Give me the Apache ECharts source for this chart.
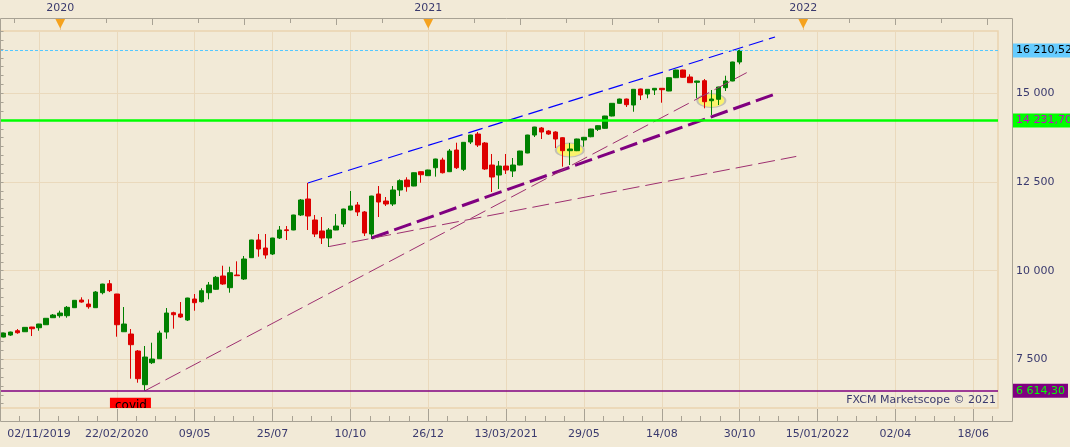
<!DOCTYPE html>
<html>
<head>
<meta charset="utf-8">
<title>NAS100 weekly</title>
<script src="https://cdn.jsdelivr.net/npm/echarts@6.0.0/dist/echarts.min.js"></script>
<style>
html, body { margin: 0; padding: 0; background: #f2ead7; }
#chart { width: 1070px; height: 447px; }
</style>
</head>
<body>
<div id="chart"></div>
<script>
// weekly candles, week 0 = first bar on the left
var opens  = [8128, 8184, 8306, 8277, 8410, 8390, 8475, 8673, 8729, 8729,
              8955, 9171, 9058, 8955, 9378, 9631, 9341, 8277, 8213, 7734,
              6784, 7404, 7517, 8269, 8814, 8777, 8608, 9200, 9124, 9378,
              9474, 9849, 9519, 9877, 9764, 10365, 10864, 10638, 10469, 10920,
              11150, 11146, 11569, 12020, 11428, 11118, 10920, 11146, 11315, 11710,
              11851, 11654, 11033, 12161, 11963, 11879, 12274, 12556, 12386, 12790,
              12677, 12902, 13119, 12790, 13401, 12857, 13627, 13852, 13599, 12978,
              12696, 12950, 12809, 12978, 13317, 13824, 14022, 13937, 13909, 13748,
              13382, 13382, 13683, 13776, 13985, 14013, 14360, 14718, 14839, 14670,
              15121, 14980, 15093, 15141, 15065, 15440, 15657, 15460, 15310, 15355,
              14791, 14831, 15158, 15347, 15883];
var closes = [8240, 8269, 8249, 8401, 8362, 8495, 8656, 8748, 8805, 8966,
              9163, 9115, 8982, 9397, 9622, 9434, 8475, 8495, 7912, 6953,
              7564, 7508, 8240, 8805, 8757, 8692, 9228, 9096, 9434, 9595,
              9812, 9623, 9942, 9857, 10328, 10864, 10610, 10441, 10920, 11146,
              11130, 11569, 11992, 11540, 11033, 10920, 11146, 11258, 11738, 11823,
              11654, 11061, 12104, 11935, 11879, 12274, 12536, 12367, 12761, 12705,
              12837, 13148, 12761, 13373, 12902, 13618, 13824, 13542, 12866, 12640,
              12950, 12837, 12978, 13373, 13824, 14050, 13909, 13852, 13711, 13382,
              13430, 13712, 13759, 13994, 14087, 14360, 14718, 14839, 14679, 15113,
              14952, 15113, 15141, 15102, 15440, 15657, 15451, 15299, 15347, 14763,
              14839, 15178, 15347, 15883, 16210.52];
var lows   = [8120, 8160, 8221, 8270, 8156, 8306, 8470, 8665, 8673, 8673,
              8950, 9096, 8926, 8950, 9332, 9397, 8137, 8270, 6953, 6840,
              6614.3, 7367, 7510, 8080, 8363, 8664, 8580, 8870, 9100, 9192,
              9460, 9600, 9378, 9850, 9736, 10360, 10393, 10337, 10441, 10892,
              10864, 11140, 11540, 11146, 10948, 10751, 10666, 11140, 11230, 11700,
              11540, 10977, 10892, 11512, 11823, 11823, 12104, 12226, 12380, 12479,
              12670, 12650, 12740, 12780, 12866, 12809, 13570, 13486, 12840, 12217,
              12302, 12725, 12640, 12970, 13310, 13768, 13711, 13830, 13458, 12931,
              12978, 13370, 13494, 13760, 13937, 14000, 14350, 14710, 14614, 14481,
              14811, 14859, 14952, 14735, 15060, 15430, 15440, 15290, 14859, 14577,
              14388, 14670, 15065, 15340, 15818];
var highs  = [8250, 8280, 8354, 8410, 8415, 8500, 8660, 8777, 8870, 9003,
              9170, 9248, 9191, 9425, 9630, 9736, 9345, 8974, 8354, 7762,
              7875, 7968, 8306, 8946, 8842, 9115, 9235, 9341, 9502, 9680,
              9849, 10139, 10111, 10263, 10413, 10870, 11033, 11033, 10925, 11258,
              11258, 11575, 12020, 12471, 11569, 11512, 11202, 11597, 11745, 12245,
              11935, 11682, 12110, 12386, 12076, 12386, 12575, 12632, 12770, 12795,
              12845, 13155, 13184, 13430, 13607, 13625, 13830, 13909, 13627, 13289,
              13091, 13289, 13176, 13380, 13830, 14055, 14050, 13960, 13930, 13760,
              13600, 13720, 13770, 14000, 14095, 14365, 14725, 14850, 14850, 15120,
              15130, 15120, 15150, 15150, 15445, 15665, 15665, 15536, 15355, 15403,
              15093, 15185, 15496, 15890, 16230];

// bottom axis labels and the week they sit on
var tickWeeks  = [5, 16, 27, 38, 49, 60, 71, 82, 93, 104, 115, 126, 137];
var tickLabels = ['02/11/2019', '22/02/2020', '09/05', '25/07', '10/10', '26/12',
                  '13/03/2021', '29/05', '14/08', '30/10', '15/01/2022', '02/04', '18/06'];
var yearWeeks  = [8, 60, 113];
var yearLabels = ['2020', '2021', '2022'];
var priceTicks = [7500, 10000, 12500, 15000];

// horizontal levels: last price, support, covid low
var levelValues = [16210.52, 14231.70, 6614.30];

// trend lines [week, price]
var trendTop     = [[43, 12471], [109, 16587]];
var trendSupport = [[52, 10920], [109, 14977]];
var trendCovid   = [[20, 6614.3], [105, 15583]];
var trendLong    = [[46, 10680], [112, 13221]];

var highlights = [[80, 13401], [100, 14797]];
var notes = [[18, 6418]];
var noteTexts = ['covid'];

var textColor = '#3a3a6e';
var frameColor = '#a8a294';
var gridColor = '#ead9bc';

function fmtPrice(v, dec) {
    var s = v.toFixed(dec).split('.');
    var whole = s[0].replace(/\B(?=(\d{3})+(?!\d))/g, ' ');
    return dec ? whole + ',' + s[1] : whole;
}

var candles = opens.map(function (o, i) {
    return [i, o, closes[i], lows[i], highs[i]];
});

// tick positions
var bottomMinor = [];
for (var n = -1; n <= 49; n++) {
    if (n % 4 !== 0) bottomMinor.push(5 + 2.75 * n);
}
var topShort = [1.5, 14.5, 27.5, 40.5, 53.5, 66.5, 79.5, 92.5, 106, 119.5, 132.5];
var topLong = [21, 34, 47, 73, 86, 99, 126, 139];
var priceMinor = [];
for (var p = 6250; p <= 16750; p += 250) {
    if (p % 2500 !== 0) priceMinor.push(p);
}

function xAxisBase(pos) {
    return {
        type: 'value', position: pos, offset: 13, min: -0.5, max: 140.5,
        axisLine: { show: false },
        axisLabel: { show: false },
        splitLine: { show: false },
        axisTick: { show: true, inside: true, length: 5, lineStyle: { color: frameColor } }
    };
}

var xBottom = xAxisBase('bottom');
xBottom.axisTick.length = 12;
xBottom.axisTick.customValues = tickWeeks;
xBottom.axisLabel = {
    show: true, customValues: tickWeeks, margin: 8,
    color: textColor, fontSize: 11, fontFamily: 'DejaVu Sans',
    formatter: function (v) { return tickLabels[tickWeeks.indexOf(v)]; }
};
xBottom.splitLine = { show: true, lineStyle: { color: gridColor, width: 1 } };

var xBottomMinor = xAxisBase('bottom');
xBottomMinor.axisTick.customValues = bottomMinor;

var xTop = xAxisBase('top');
xTop.axisTick.length = 7;
xTop.axisTick.customValues = topLong;
xTop.axisLabel = {
    show: true, customValues: yearWeeks, margin: 4,
    color: textColor, fontSize: 11, fontFamily: 'DejaVu Sans',
    formatter: function (v) { return yearLabels[yearWeeks.indexOf(v)]; }
};

var xTopMinor = xAxisBase('top');
xTopMinor.axisTick.customValues = topShort;

var xTopMarks = xAxisBase('top');
xTopMarks.axisTick = { show: true, inside: true, length: 12, customValues: yearWeeks,
                       lineStyle: { color: '#e9c79a', width: 1 } };
xTopMarks.axisLabel = {
    show: true, inside: true, customValues: yearWeeks, margin: -1,
    color: '#f5a21e', fontSize: 13, fontFamily: 'DejaVu Sans',
    formatter: function () { return '\u25BC'; }
};

var levelStyles = [
    { line: { color: '#55c8ff', width: 1, type: [3, 2] }, bg: '#66ccff', fg: '#000000' },
    { line: { color: '#00ff00', width: 2.5, type: 'solid' }, bg: '#00ff00', fg: '#cc00cc' },
    { line: { color: '#800080', width: 1.5, type: 'solid' }, bg: '#800080', fg: '#00ff00' }
];

function trendSeries(data, color, width, dash) {
    return {
        type: 'line', data: data, symbol: 'none', silent: true, z: 4,
        lineStyle: { color: color, width: width, type: dash }
    };
}

var chart = echarts.init(document.getElementById('chart'));

var option = {
    backgroundColor: '#f2ead7',
    animation: false,
    grid: {
        left: -1.545, right: 72, top: 31, bottom: 39,
        show: true, borderColor: '#ead4b0', borderWidth: 1.5
    },
    xAxis: [xBottom, xBottomMinor, xTop, xTopMinor, xTopMarks],
    yAxis: [
        {
            type: 'value', position: 'right', offset: 14, min: 6127, max: 16757,
            axisLine: { show: false },
            axisTick: { show: true, inside: true, length: 14, customValues: priceTicks,
                        lineStyle: { color: frameColor } },
            axisLabel: { customValues: priceTicks, margin: 4, color: textColor,
                         fontSize: 11, fontFamily: 'DejaVu Sans',
                         formatter: function (v) { return fmtPrice(v, 0); } },
            splitLine: { show: true, lineStyle: { color: gridColor, width: 1 } }
        },
        {
            type: 'value', position: 'right', offset: 14, min: 6127, max: 16757,
            axisLine: { show: false },
            axisTick: { show: true, inside: true, length: 5, customValues: priceMinor,
                        lineStyle: { color: frameColor } },
            axisLabel: { show: false },
            splitLine: { show: false }
        }
    ],
    series: [
        {
            type: 'scatter', data: highlights, symbol: 'circle', symbolSize: [28, 14],
            silent: true, z: 1,
            itemStyle: { color: '#fbf36c', opacity: 1, borderColor: '#c2c0b6', borderWidth: 1.5 }
        },
        {
            type: 'candlestick', data: candles, barWidth: 5, z: 2,
            itemStyle: {
                color: '#008000', color0: '#dd0000',
                borderColor: '#008000', borderColor0: '#dd0000', borderWidth: 1
            },
            markLine: {
                silent: true, symbol: ['none', 'none'], z: 6,
                data: levelValues.map(function (v, i) {
                    var st = levelStyles[i];
                    return {
                        yAxis: v,
                        lineStyle: st.line,
                        label: {
                            show: true, position: 'end', distance: 15,
                            backgroundColor: st.bg, color: st.fg,
                            padding: [2, 3, 1, 3], fontSize: 11, fontFamily: 'DejaVu Sans',
                            formatter: function (prm) { return fmtPrice(prm.value, 2); }
                        }
                    };
                })
            }
        },
        trendSeries(trendTop, '#0000ff', 1.2, [15, 6]),
        trendSeries(trendSupport, '#800080', 3, [18, 6]),
        trendSeries(trendCovid, '#9e3070', 1, [17, 6]),
        trendSeries(trendLong, '#9e3070', 1, [17, 6]),
        {
            type: 'custom', data: notes, clip: true, silent: true, z: 5,
            renderItem: function (params, api) {
                var pt = api.coord([api.value(0), api.value(1)]);
                return {
                    type: 'group',
                    children: [
                        { type: 'rect', shape: { x: pt[0] - 21, y: pt[1], width: 41, height: 18 },
                          style: { fill: '#ff0000' } },
                        { type: 'text', x: pt[0], y: pt[1] + 2.5,
                          style: { text: noteTexts[params.dataIndex], fill: '#000000',
                                   font: '12px "DejaVu Sans"', align: 'center', verticalAlign: 'top' } }
                    ]
                };
            }
        }
    ],
    graphic: [
        { type: 'rect', silent: true, z: 10,
          shape: { x: 0.5, y: 18.5, width: 1012, height: 403 },
          style: { fill: null, stroke: frameColor, lineWidth: 1 } },
        { type: 'text', silent: true, right: 74, top: 395, z: 10,
          style: { text: 'FXCM Marketscope \u00A9 2021', fill: textColor,
                   font: '11px "DejaVu Sans"' } }
    ]
};

chart.setOption(option);
</script>
</body>
</html>
